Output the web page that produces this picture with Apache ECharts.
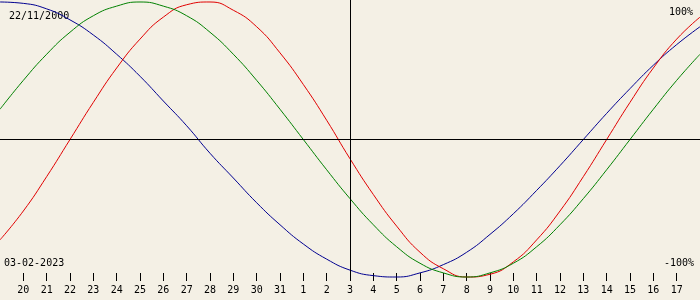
<!DOCTYPE html>
<html>
<head>
<meta charset="utf-8">
<script src="https://cdn.jsdelivr.net/npm/echarts@6/dist/echarts.min.js"></script>
<style>html,body{margin:0;padding:0;background:#f4f0e5;}#c{width:700px;height:300px;}</style>
</head>
<body>
<div id="c"></div>
<script>
// Days shown: Jan 19 .. Feb 18 (centre = Feb 3)
var days = ['19','20','21','22','23','24','25','26','27','28','29','30','31','1','2','3','4','5','6','7','8','9','10','11','12','13','14','15','16','17','18'];
// values in percent
var physical = [-73,-52,-27,0,27,52,73,89,98,100,94,82,63,40,14,-14,-40,-63,-82,-94,-100,-98,-89,-73,-52,-27,0,27,52,73,89];
var emotional = [22,43,62,78,90,97,100,97,90,78,62,43,22,0,-22,-43,-62,-78,-90,-97,-100,-97,-90,-78,-62,-43,-22,0,22,43,62];
var intellectual = [100,99,95,87,76,62,46,28,10,-10,-28,-46,-62,-76,-87,-95,-99,-100,-97,-91,-82,-69,-54,-37,-19,0,19,37,54,69,82];
var birthDate = '22/11/2000';
var targetDate = '03-02-2023';
var topLabel = '100%';
var bottomLabel = '-100%';
var centreIndex = 15;

var font = 'DejaVu Sans Mono';
var chart = echarts.init(document.getElementById('c'));
function skipEnds(i){ return i > 0 && i < days.length - 1; }
chart.setOption({
  backgroundColor: '#f4f0e5',
  animation: false,
  grid: {left: 0, right: 0, top: 0, bottom: 19},
  xAxis: {
    type: 'category', data: days, boundaryGap: false,
    axisLine: {show: false, onZero: false},
    axisTick: {show: true, inside: true, length: 8, interval: function(i){return skipEnds(i);}, lineStyle: {color: '#000', width: 1}},
    axisLabel: {interval: function(i){return skipEnds(i);}, margin: 4, color: '#000', fontFamily: font, fontSize: 10},
    splitLine: {show: false}
  },
  yAxis: {
    type: 'value', min: -102.9, max: 101.45, show: false, splitLine: {show: false}
  },
  graphic: [
    {type: 'text', left: 9, top: 11, style: {text: birthDate, font: '10px ' + font, fill: '#000'}},
    {type: 'text', right: 7, top: 7, style: {text: topLabel, font: '10px ' + font, fill: '#000'}},
    {type: 'text', left: 4, top: 258, style: {text: targetDate, font: '10px ' + font, fill: '#000'}},
    {type: 'text', right: 6, top: 258, style: {text: bottomLabel, font: '10px ' + font, fill: '#000'}}
  ],
  series: [
    {type: 'line', data: intellectual, smooth: true, symbol: 'none', lineStyle: {color: '#000090', width: 1}, z: 2,
     markLine: {silent: true, symbol: 'none', label: {show: false}, lineStyle: {color: '#000', width: 1, type: 'solid'},
       data: [{yAxis: 0}, {xAxis: centreIndex}]}},
    {type: 'line', data: physical, smooth: true, symbol: 'none', lineStyle: {color: '#e00000', width: 1}, z: 3},
    {type: 'line', data: emotional, smooth: true, symbol: 'none', lineStyle: {color: '#008000', width: 1}, z: 4}
  ]
});
</script>
</body>
</html>
